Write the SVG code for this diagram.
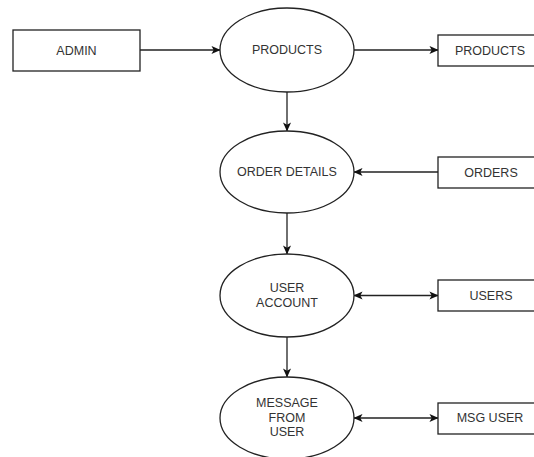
<svg xmlns="http://www.w3.org/2000/svg" width="534" height="457" viewBox="0 0 534 457">
<style>
.shape{fill:#fff;stroke:#222;stroke-width:1.3}
.edge{fill:none;stroke:#222;stroke-width:1.3}
text{font-family:"Liberation Sans",Arial,sans-serif;font-size:12.5px;fill:#333;text-anchor:middle;dominant-baseline:central}
</style>
<defs>
<marker id="arr" viewBox="0 0 10 10" refX="9.5" refY="5" markerWidth="9" markerHeight="9" markerUnits="userSpaceOnUse" orient="auto-start-reverse">
<path d="M0,0.5 L10,5 L0,9.5 L2.5,5 z" fill="#111"/>
</marker>
</defs>
<rect width="534" height="457" fill="#fff"/>
<g id="connectors">
<line class="edge" x1="140" y1="50" x2="220" y2="50" marker-end="url(#arr)"/>
<line class="edge" x1="354" y1="50" x2="438" y2="50" marker-end="url(#arr)"/>
<line class="edge" x1="287" y1="92" x2="287" y2="131" marker-end="url(#arr)"/>
<line class="edge" x1="438" y1="172" x2="354" y2="172" marker-end="url(#arr)"/>
<line class="edge" x1="287" y1="213" x2="287" y2="254" marker-end="url(#arr)"/>
<line class="edge" x1="354" y1="295.5" x2="438" y2="295.5" marker-start="url(#arr)" marker-end="url(#arr)"/>
<line class="edge" x1="287" y1="337" x2="287" y2="377" marker-end="url(#arr)"/>
<line class="edge" x1="354" y1="418" x2="438" y2="418" marker-start="url(#arr)" marker-end="url(#arr)"/>
</g>
<g id="admin"><rect class="shape" x="13" y="30" width="127" height="41"/><text x="76.5" y="50.5">ADMIN</text></g>
<g id="products-process"><ellipse class="shape" cx="287" cy="50" rx="67" ry="42"/><text x="287" y="50">PRODUCTS</text></g>
<g id="products-store"><rect class="shape" x="438" y="35" width="104" height="31"/><text x="490" y="50.5">PRODUCTS</text></g>
<g id="order-details"><ellipse class="shape" cx="287" cy="172" rx="67" ry="41"/><text x="287" y="172">ORDER DETAILS</text></g>
<g id="orders"><rect class="shape" x="438" y="157" width="104" height="31"/><text x="491" y="172.5">ORDERS</text></g>
<g id="user-account"><ellipse class="shape" cx="287" cy="295.5" rx="67" ry="41.5"/><text x="287" y="288">USER</text><text x="287" y="302.5">ACCOUNT</text></g>
<g id="users"><rect class="shape" x="438" y="280" width="104" height="31"/><text x="491" y="295.5">USERS</text></g>
<g id="message-from-user"><ellipse class="shape" cx="287" cy="418" rx="67" ry="41"/><text x="287" y="403">MESSAGE</text><text x="287" y="417.5">FROM</text><text x="287" y="432">USER</text></g>
<g id="msg-user"><rect class="shape" x="438" y="403" width="104" height="31"/><text x="490" y="418">MSG USER</text></g>
</svg>
